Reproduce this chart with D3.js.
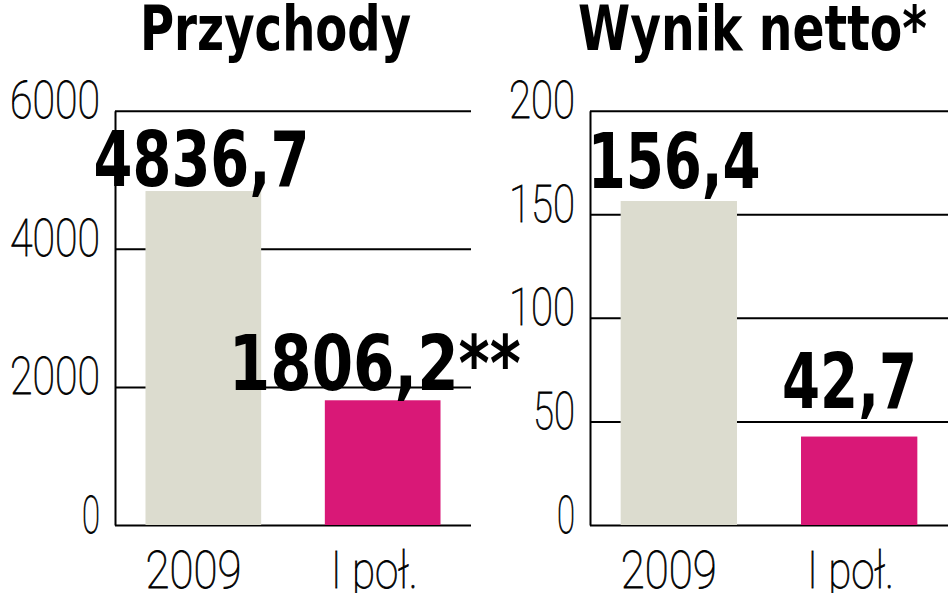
<!DOCTYPE html>
<html><head><meta charset="utf-8">
<script src="https://cdn.jsdelivr.net/npm/d3@7/dist/d3.min.js"></script>
<style>
html,body{margin:0;padding:0;background:#fff;}
svg{display:block;}
.bold{font-family:"Liberation Sans Narrow","DejaVu Sans Condensed","DejaVu Sans",sans-serif;font-weight:bold;fill:#000;}
.thin{font-family:Roboto,"DejaVu Sans",sans-serif;font-weight:100;fill:#000;stroke:#000;stroke-width:0.8px;}
</style></head>
<body><svg id="c" width="948" height="593"></svg>
<script>
// ---- data ----
const categories = ["2009", "I poł."];
const revenueValues = [4836.7, 1806.2];
const revenueLabels = ["4836,7", "1806,2**"];
const revenueTicks = [0, 2000, 4000, 6000];
const netValues = [156.4, 42.7];
const netLabels = ["156,4", "42,7"];
const netTicks = [0, 50, 100, 150, 200];
const titles = ["Przychody", "Wynik netto*"];
const barColors = ["#dcdccf", "#d91877"];

const svg = d3.select("#c");
const y0 = 525, yTop = 110.7;

function panel(cfg) {
  const g = svg.append("g");
  const y = d3.scaleLinear().domain([0, cfg.max]).range([y0, yTop]);
  const x = d3.scaleBand().domain(categories).range([cfg.x0, cfg.x1])
    .paddingInner(0.355).paddingOuter(0.17);

  const axis = d3.axisLeft(y).tickValues(cfg.ticks).tickSize(-(cfg.x1 - cfg.x0))
    .tickSizeOuter(0).tickFormat(d3.format("d"));
  const ax = g.append("g").attr("transform", `translate(${cfg.x0},0)`).call(axis);
  ax.select(".domain").attr("stroke", "#000").attr("stroke-width", 2);
  ax.selectAll(".tick line").attr("stroke", "#000").attr("stroke-width", 2);
  ax.selectAll(".tick text").attr("class", "thin")
    .attr("x", -15).attr("dy", 7).attr("font-size", 52)
    .attr("text-anchor", "end")
    .attr("textLength", d => String(d).length * 24 - 6)
    .attr("lengthAdjust", "spacingAndGlyphs");

  g.selectAll("rect.bar").data(cfg.values).join("rect").attr("class", "bar")
    .attr("x", (d, i) => x(categories[i]))
    .attr("width", x.bandwidth())
    .attr("y", d => y(d))
    .attr("height", d => y0 - y(d))
    .attr("fill", (d, i) => barColors[i]);

  // category labels
  g.selectAll("text.cat").data(categories).join("text").attr("class", "thin cat")
    .attr("x", (d, i) => x(d) + cfg.catDx[i])
    .attr("y", 588).attr("font-size", 52)
    .attr("textLength", (d, i) => cfg.catW[i])
    .attr("lengthAdjust", "spacingAndGlyphs")
    .text(d => d);

  // value labels
  g.selectAll("text.val").data(cfg.values).join("text").attr("class", "bold val")
    .attr("x", (d, i) => x(categories[i]) + cfg.valDx[i])
    .attr("y", (d, i) => y(d) - cfg.valDy[i])
    .attr("font-size", 76)
    .attr("textLength", (d, i) => cfg.valW[i])
    .attr("lengthAdjust", "spacingAndGlyphs")
    .text((d, i) => cfg.labels[i]);

  // title
  g.append("text").attr("class", "bold")
    .attr("x", cfg.titleX).attr("y", 50).attr("font-size", 62)
    .attr("textLength", cfg.titleW).attr("lengthAdjust", "spacingAndGlyphs")
    .text(cfg.title);
}

panel({
  x0: 115, x1: 471, max: 6000, ticks: revenueTicks, values: revenueValues,
  labels: revenueLabels, title: titles[0], titleX: 140, titleW: 271,
  valDx: [-52, -96], valDy: [5, 10], valW: [216, 292],
  catDx: [0, 6], catW: [96, 87]
});
panel({
  x0: 590, x1: 948, max: 200, ticks: netTicks, values: netValues,
  labels: netLabels, title: titles[1], titleX: 578, titleW: 349,
  valDx: [-33, -19], valDy: [13, 29], valW: [173, 135],
  catDx: [0, 6], catW: [96, 87]
});
</script></body></html>
